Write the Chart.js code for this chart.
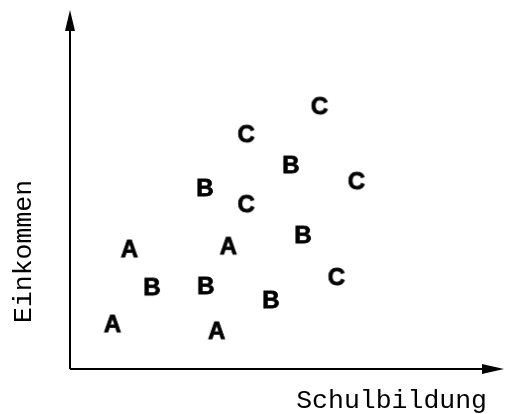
<!DOCTYPE html>
<html>
<head>
<meta charset="utf-8">
<script src="https://cdn.jsdelivr.net/npm/chart.js@4/dist/chart.umd.min.js"></script>
<style>
html,body{margin:0;padding:0;background:#fff;}
#wrap{width:509px;height:414px;position:relative;}
</style>
</head>
<body>
<div id="wrap"><canvas id="c" width="509" height="414"></canvas></div>
<script>
// Data (arbitrary units, axis 0..100)
const groupLabels = ["A", "B", "C"];
const schulbildungA = [9.8, 13.7, 33.8, 36.5];
const einkommenA    = [12.8, 33.7, 10.9, 34.5];
const schulbildungB = [18.9, 31.3, 31.1, 46.3, 50.9, 53.7];
const einkommenB    = [23.1, 23.4, 50.7, 19.5, 57.1, 37.6];
const schulbildungC = [40.6, 40.6, 57.5, 61.4, 66.0];
const einkommenC    = [65.7, 46.2, 73.5, 25.9, 52.6];
const xTitle = "Schulbildung";
const yTitle = "Einkommen";

function letterImage(ch) {
  const c = document.createElement('canvas');
  c.width = 36; c.height = 36;
  const g = c.getContext('2d');
  g.fillStyle = '#000';
  g.strokeStyle = '#000';
  g.lineWidth = 0.8;
  g.font = 'bold 24px "Liberation Sans", Arial, sans-serif';
  g.textAlign = 'center';
  g.textBaseline = 'alphabetic';
  g.fillText(ch, 18, 26.5);
  g.strokeText(ch, 18, 26.5);
  return c;
}

function pts(xs, ys) { return xs.map((x, i) => ({x: x, y: ys[i]})); }

const arrowsAndTitles = {
  id: 'arrowsAndTitles',
  afterDraw(chart) {
    const ctx = chart.ctx;
    const xs = chart.scales.x, ys = chart.scales.y;
    const x0 = xs.getPixelForValue(xs.min), x1 = xs.getPixelForValue(xs.max);
    const y0 = ys.getPixelForValue(ys.min), y1 = ys.getPixelForValue(ys.max);
    ctx.save();
    ctx.fillStyle = '#000';
    ctx.strokeStyle = '#000';
    ctx.lineWidth = 2;
    ctx.beginPath();
    ctx.moveTo(x0, y0); ctx.lineTo(x1 - 6, y0);
    ctx.moveTo(x0, y0); ctx.lineTo(x0, y1 + 6);
    ctx.stroke();
    // y arrow
    ctx.beginPath();
    ctx.moveTo(x0, y1);
    ctx.lineTo(x0 - 5, y1 + 21);
    ctx.lineTo(x0 + 5, y1 + 21);
    ctx.closePath(); ctx.fill();
    // x arrow
    ctx.beginPath();
    ctx.moveTo(x1, y0);
    ctx.lineTo(x1 - 22, y0 - 5);
    ctx.lineTo(x1 - 22, y0 + 5);
    ctx.closePath(); ctx.fill();
    // titles
    ctx.font = '26.5px "Liberation Mono", "Courier New", monospace';
    ctx.textAlign = 'right';
    ctx.textBaseline = 'alphabetic';
    ctx.fillText(xTitle, x1 - 17, y0 + 39);
    ctx.translate(x0 - 39, y0 - 46);
    ctx.rotate(-Math.PI / 2);
    ctx.textAlign = 'left';
    ctx.fillText(yTitle, 0, 0);
    ctx.restore();
  }
};

new Chart(document.getElementById('c'), {
  type: 'scatter',
  data: {
    datasets: [
      {label: groupLabels[0], data: pts(schulbildungA, einkommenA), pointStyle: letterImage(groupLabels[0])},
      {label: groupLabels[1], data: pts(schulbildungB, einkommenB), pointStyle: letterImage(groupLabels[1])},
      {label: groupLabels[2], data: pts(schulbildungC, einkommenC), pointStyle: letterImage(groupLabels[2])}
    ]
  },
  options: {
    responsive: false,
    animation: false,
    events: [],
    layout: {padding: {left: 70, top: 10, right: 1, bottom: 45}},
    plugins: {legend: {display: false}, tooltip: {enabled: false}},
    scales: {
      x: {type: 'linear', min: 0, max: 100, display: true,
          grid: {display: false, drawTicks: false}, border: {display: false},
          ticks: {display: false}},
      y: {type: 'linear', min: 0, max: 100, display: true,
          grid: {display: false, drawTicks: false}, border: {display: false},
          ticks: {display: false}}
    }
  },
  plugins: [arrowsAndTitles]
});
</script>
</body>
</html>
